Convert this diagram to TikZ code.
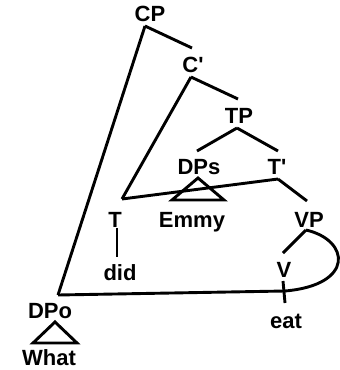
\documentclass[tikz,border=0pt]{standalone}
\usepackage{fontspec}
\setmainfont{Liberation Sans}
\begin{document}
\begin{tikzpicture}[x=1pt,y=-1pt,
  lab/.style={font=\fontsize{22}{22}\selectfont\bfseries, inner sep=0pt, anchor=base},
  br/.style={line width=2.9pt}]
\useasboundingbox (0,0) rectangle (340,370);
\fill[white] (0,0) rectangle (340,370);
% nodes
\node[lab] (CP) at (150,21) {CP};
\node[lab] (C1) at (193,72) {C\textquotesingle};
\node[lab] (TP) at (239,123) {TP};
\node[lab] (DPs) at (199,174) {DPs};
\node[lab] (T1) at (277,174) {T\textquotesingle};
\node[lab] (T) at (115,227) {T};
\node[lab] (Emmy) at (192,227) {Emmy};
\node[lab] (VP) at (309,227) {VP};
\node[lab] (did) at (120,280) {did};
\node[lab] (V) at (284,277) {V};
\node[lab] (eat) at (286,328) {eat};
\node[lab] (DPo) at (50,318) {DPo};
\node[lab] (What) at (49,365.5) {What};
% branches
\draw[br] ([shift={(-5,5)}]CP.base) -- ([shift={(-1,-24)}]C1.base);
\draw[br] ([shift={(-5,5)}]CP.base) -- ([shift={(8,-23)}]DPo.base);
\draw[br] ([shift={(-2,5)}]C1.base) -- ([shift={(-1,-24)}]TP.base);
\draw[br] ([shift={(-2,5)}]C1.base) -- ([shift={(7,-28)}]T.base);
\draw[br] ([shift={(-2,5)}]TP.base) -- ([shift={(-2,-23)}]DPs.base);
\draw[br] ([shift={(-2,5)}]TP.base) -- ([shift={(1,-23)}]T1.base);
\draw[br] ([shift={(1,5)}]T1.base) -- ([shift={(-2,-26)}]VP.base);
\draw[br] ([shift={(1,5)}]T1.base) -- ([shift={(7,-28)}]T.base);
\draw[br] ([shift={(2,1)}]T.base) -- ([shift={(-3,-23)}]did.base);
\draw[br] ([shift={(-3,3)}]VP.base) -- ([shift={(-1,-24)}]V.base);
\draw[br] ([shift={(-1,4)}]V.base) -- ([shift={(-1,-25)}]eat.base);
% triangles
\draw[br] ([shift={(-1,4)}]DPs.base) -- ([shift={(-27,26)}]DPs.base) -- ([shift={(25,26)}]DPs.base) -- cycle;
\draw[br] ([shift={(5,4)}]DPo.base) -- ([shift={(-17,25)}]DPo.base) -- ([shift={(27,25)}]DPo.base) -- cycle;
% movement curve
\draw[br] ([shift={(-3,3)}]VP.base) .. controls (350,240) and (355,285) .. (285,291) -- ([shift={(8,-23)}]DPo.base);
\end{tikzpicture}
\end{document}
